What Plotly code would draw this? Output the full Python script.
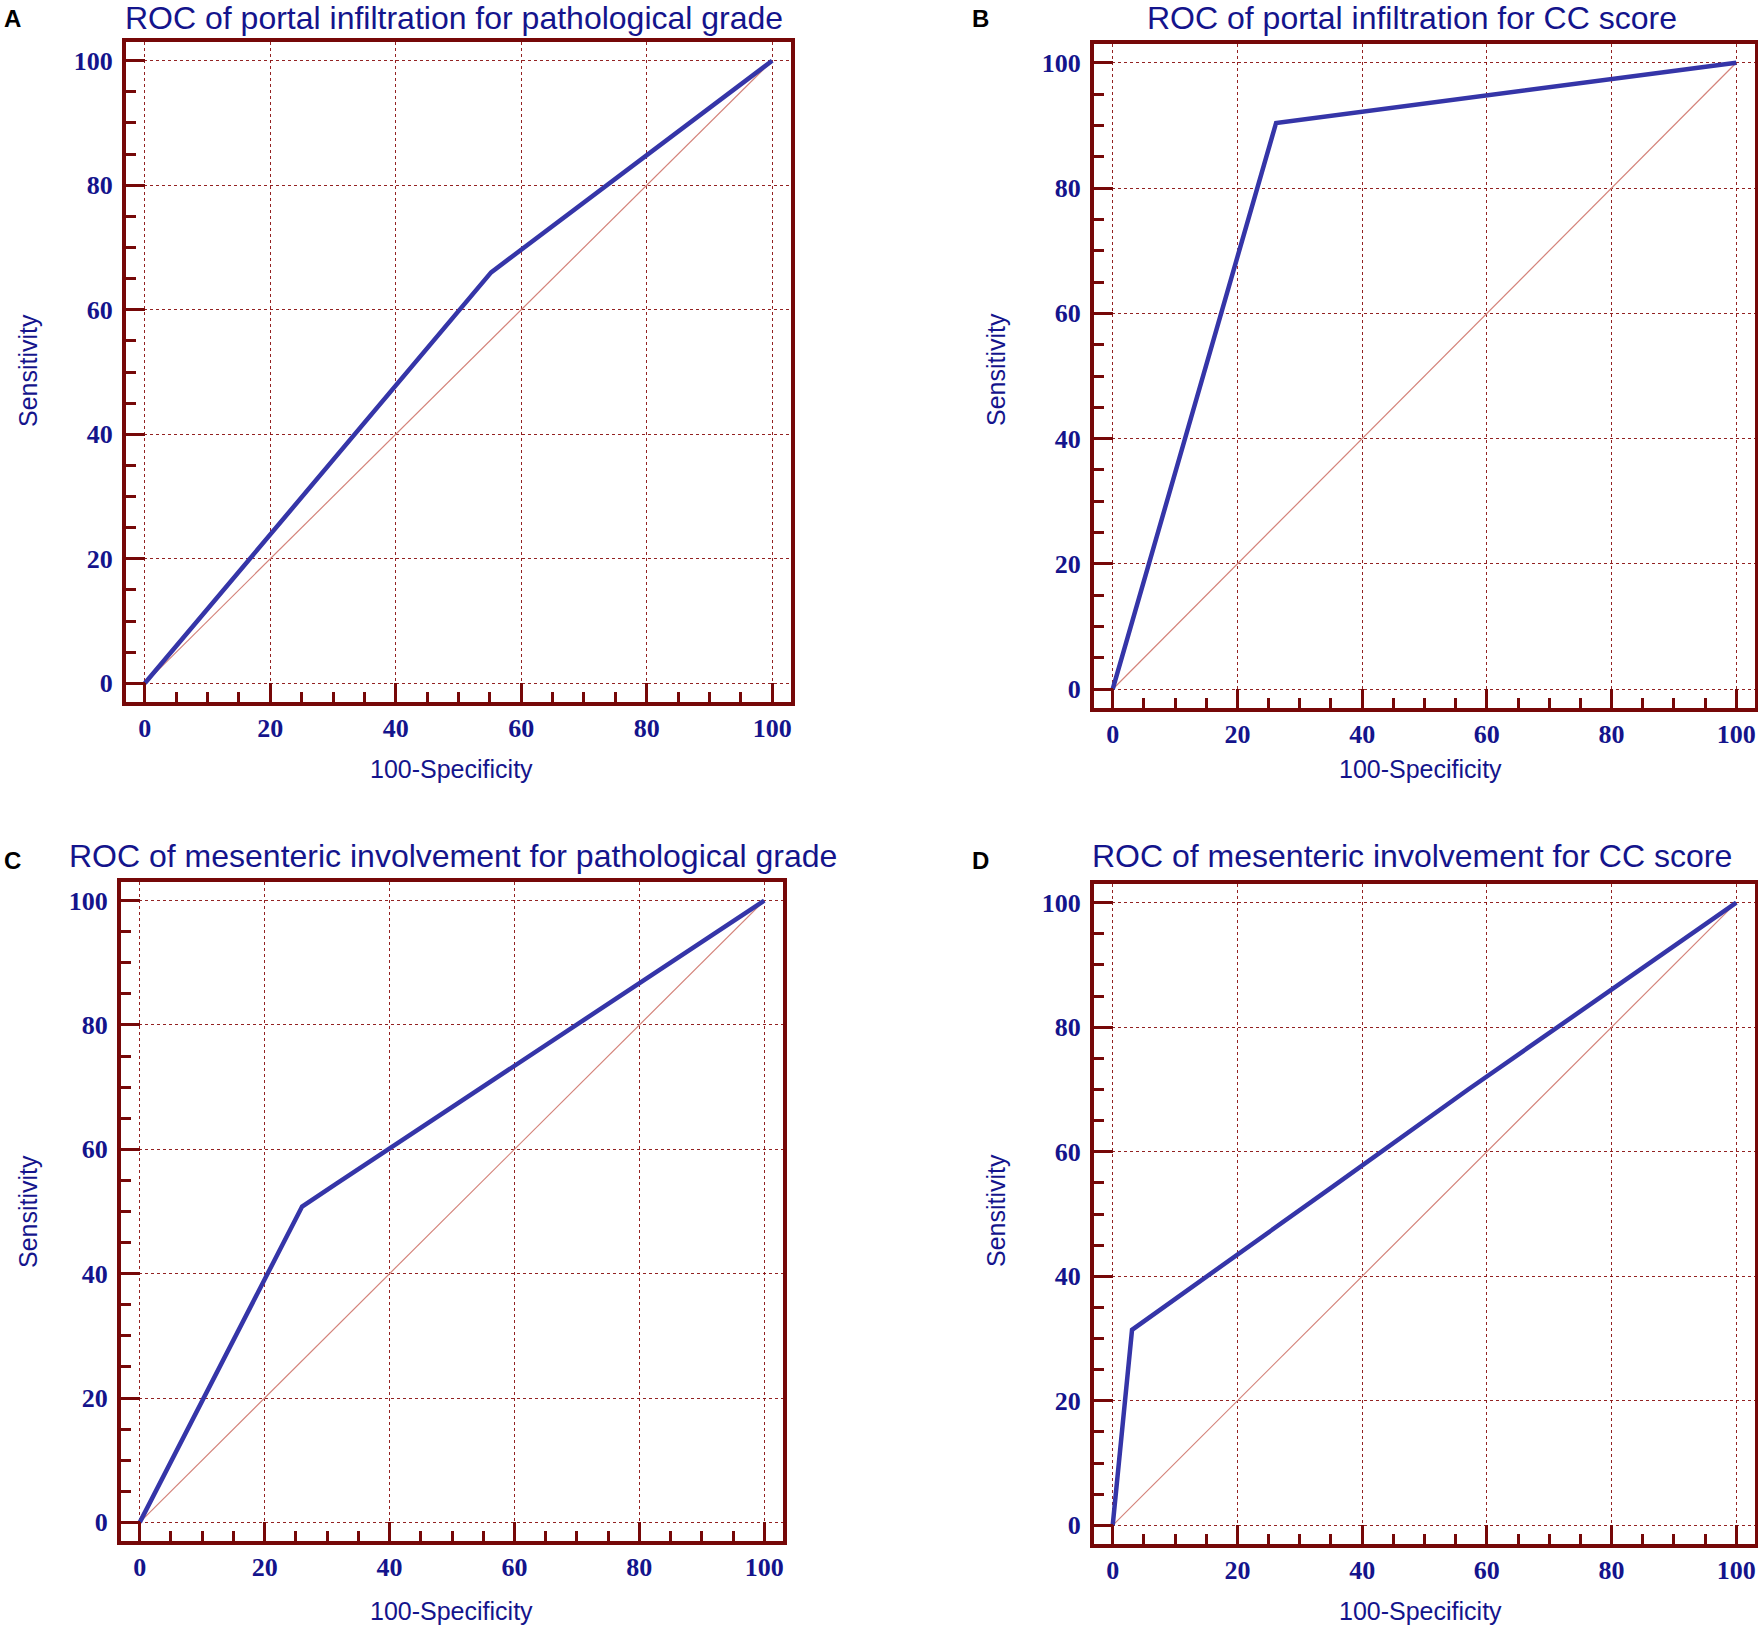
import plotly.graph_objects as go

W, H = 1758, 1627

# ROC curve points (100-Specificity, Sensitivity)
a_x = [0, 55.2, 100]
a_y = [0, 66.0, 100]

b_x = [0, 26.2, 100]
b_y = [0, 90.4, 100]

c_x = [0, 26.0, 31.5, 100]
c_y = [0, 50.8, 54.5, 100]

d_x = [0, 3.1, 35, 57, 100]
d_y = [0, 31.4, 54.2, 70, 100]

diag = [0, 100]

titles = [
    "ROC of portal infiltration for pathological grade",
    "ROC of portal infiltration for CC score",
    "ROC of mesenteric involvement for pathological grade",
    "ROC of mesenteric involvement for CC score",
]
letters = ["A", "B", "C", "D"]
tick_vals = [0, 20, 40, 60, 80, 100]

FRAME = "#760808"
GRID = "rgba(135,10,10,0.9)"
NAVY = "#14148c"
CURVE = "#3535a8"
DIAG = "#d4837a"

# plot boxes in pixels: left, right, top, bottom
boxes = [
    (126, 791, 42, 702),
    (1094, 1755, 44, 708),
    (121, 783, 882, 1541),
    (1094, 1755, 884, 1544),
]
# text centres in pixels
title_pos = [(454, 18), (1412, 18), (453, 856), (1412, 856)]
letter_pos = [(12, 18), (980, 18), (12, 861), (980, 861)]
ylab_pos = [(28, 370), (996, 370), (28, 1211), (996, 1211)]
xlab_pos = [(452, 769), (1420, 769), (452, 1611), (1420, 1611)]


def px(x):
    return x / W


def py(y):
    return 1 - y / H


fig = go.Figure()

series = [(a_x, a_y), (b_x, b_y), (c_x, c_y), (d_x, d_y)]

for i, ((xs, ys), box) in enumerate(zip(series, boxes)):
    n = "" if i == 0 else str(i + 1)
    l, r, t, b = box
    fig.add_trace(go.Scatter(x=diag, y=diag, mode="lines",
                             line=dict(color=DIAG, width=1.2),
                             xaxis="x" + n, yaxis="y" + n, hoverinfo="skip"))
    fig.add_trace(go.Scatter(x=xs, y=ys, mode="lines",
                             line=dict(color=CURVE, width=4.5),
                             xaxis="x" + n, yaxis="y" + n))

    axis_common = dict(
        range=[-3, 103],
        tickmode="array", tickvals=tick_vals,
        ticks="inside", ticklen=19, tickwidth=3, tickcolor=FRAME,
        showline=True, linecolor=FRAME, linewidth=4, mirror=True,
        showgrid=True, gridcolor=GRID, gridwidth=1, griddash="dot",
        zeroline=False,
        minor=dict(dtick=5, tick0=0, ticks="inside", ticklen=10,
                   tickwidth=3, tickcolor=FRAME, showgrid=False),
        tickfont=dict(family="Liberation Serif", size=26, color=NAVY,
                      weight="bold"),
        fixedrange=True,
    )
    fig.layout["xaxis" + n] = dict(
        axis_common, domain=[px(l), px(r)], anchor="y" + n,
        ticklabelstandoff=0)
    fig.layout["yaxis" + n] = dict(
        axis_common, domain=[py(b), py(t)], anchor="x" + n,
        ticklabelstandoff=4)

    tx, ty = title_pos[i]
    fig.add_annotation(x=px(tx), y=py(ty), xref="paper", yref="paper",
                       xanchor="center", yanchor="middle",
                       text=titles[i], showarrow=False,
                       font=dict(family="Liberation Sans", size=32, color=NAVY))
    lx, ly = letter_pos[i]
    fig.add_annotation(x=px(lx), y=py(ly), xref="paper", yref="paper",
                       xanchor="center", yanchor="middle",
                       text=letters[i], showarrow=False,
                       font=dict(family="Liberation Sans", size=24,
                                 color="black", weight="bold"))
    sx, sy = ylab_pos[i]
    fig.add_annotation(x=px(sx), y=py(sy), xref="paper", yref="paper",
                       xanchor="center", yanchor="middle",
                       text="Sensitivity", textangle=-90, showarrow=False,
                       font=dict(family="Liberation Sans", size=25, color=NAVY))
    qx, qy = xlab_pos[i]
    fig.add_annotation(x=px(qx), y=py(qy), xref="paper", yref="paper",
                       xanchor="center", yanchor="middle",
                       text="100-Specificity", showarrow=False,
                       font=dict(family="Liberation Sans", size=25, color=NAVY))

fig.update_layout(
    width=W, height=H,
    margin=dict(l=0, r=0, t=0, b=0),
    paper_bgcolor="white", plot_bgcolor="white",
    showlegend=False,
)

# drop the browser's default 8px body margin so the figure fills the window
fig.write_html("out.html", config={"displayModeBar": False},
               post_script="document.body.style.margin='0px';")
